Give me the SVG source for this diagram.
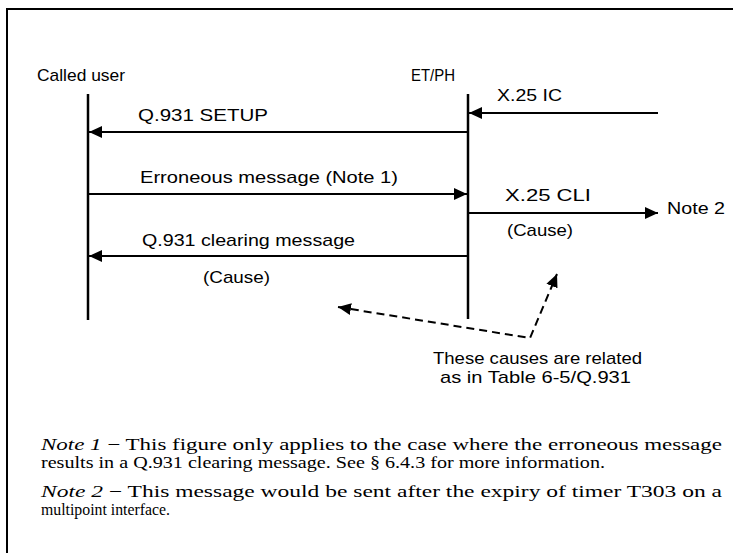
<svg xmlns="http://www.w3.org/2000/svg" width="733" height="553" viewBox="0 0 733 553">
<style>
.lbl{font-family:"Liberation Sans",Arial,sans-serif;font-size:17px;fill:#000}
.note{font-family:"Liberation Serif","Times New Roman",serif;font-size:16.5px;fill:#000}
.it{font-style:italic}
.life{stroke:#000;stroke-width:2.5;fill:none}
.msg{stroke:#000;stroke-width:2;fill:none;marker-end:url(#ah)}
.dash{stroke:#000;stroke-width:2;fill:none;stroke-dasharray:8 5;marker-start:url(#ah);marker-end:url(#ah)}
</style>
<defs>
<marker id="ah" markerUnits="userSpaceOnUse" markerWidth="14" markerHeight="12" refX="13" refY="6" orient="auto-start-reverse">
<path d="M0,0 L13,6 L0,12 z" fill="#000"/>
</marker>
</defs>
<rect width="733" height="553" fill="#fff"/>
<g id="frame">
<path d="M7,9 H733 M7,8 V553" stroke="#000" stroke-width="2" fill="none"/>
</g>
<g id="called-user">
<text class="lbl" x="37" y="81" textLength="88" lengthAdjust="spacingAndGlyphs">Called user</text>
<line class="life" x1="88" y1="94" x2="88" y2="320"/>
</g>
<g id="et-ph">
<text class="lbl" x="411" y="81" textLength="44" lengthAdjust="spacingAndGlyphs">ET/PH</text>
<line class="life" x1="468" y1="94" x2="468" y2="319"/>
</g>
<g id="connectors">
<line class="msg" x1="658" y1="113" x2="469" y2="113"/>
<text class="lbl" x="497" y="101" textLength="65" lengthAdjust="spacingAndGlyphs">X.25 IC</text>
<line class="msg" x1="467" y1="132" x2="89" y2="132"/>
<text class="lbl" x="138" y="121" textLength="130" lengthAdjust="spacingAndGlyphs">Q.931 SETUP</text>
<line class="msg" x1="89" y1="194" x2="467" y2="194"/>
<text class="lbl" x="140" y="183" textLength="258" lengthAdjust="spacingAndGlyphs">Erroneous message (Note 1)</text>
<line class="msg" x1="469" y1="213" x2="658" y2="213"/>
<text class="lbl" x="505" y="201" textLength="86" lengthAdjust="spacingAndGlyphs">X.25 CLI</text>
<text class="lbl" x="667" y="214" textLength="58" lengthAdjust="spacingAndGlyphs">Note 2</text>
<text class="lbl" x="507" y="236" textLength="66" lengthAdjust="spacingAndGlyphs">(Cause)</text>
<line class="msg" x1="467" y1="256" x2="89" y2="256"/>
<text class="lbl" x="142" y="246" textLength="213" lengthAdjust="spacingAndGlyphs">Q.931 clearing message</text>
<text class="lbl" x="203" y="283" textLength="67" lengthAdjust="spacingAndGlyphs">(Cause)</text>
<path class="dash" d="M338,307 L530,338 L557,274"/>
</g>
<g id="relation-note">
<text class="lbl" x="433" y="364" textLength="209" lengthAdjust="spacingAndGlyphs">These causes are related</text>
<text class="lbl" x="440" y="383" textLength="191" lengthAdjust="spacingAndGlyphs">as in Table 6-5/Q.931</text>
</g>
<g id="notes">
<text class="note" x="41" y="450" textLength="681" lengthAdjust="spacingAndGlyphs"><tspan class="it">Note 1</tspan>  −  This figure only applies to the case where the erroneous message</text>
<text class="note" x="41" y="468" textLength="564" lengthAdjust="spacingAndGlyphs">results in a Q.931 clearing message. See § 6.4.3 for more information.</text>
<text class="note" x="41" y="497" textLength="681" lengthAdjust="spacingAndGlyphs"><tspan class="it">Note 2</tspan>  −  This message would be sent after the expiry of timer T303 on a</text>
<text class="note" x="41" y="515" textLength="129" lengthAdjust="spacingAndGlyphs">multipoint interface.</text>
</g>
</svg>
